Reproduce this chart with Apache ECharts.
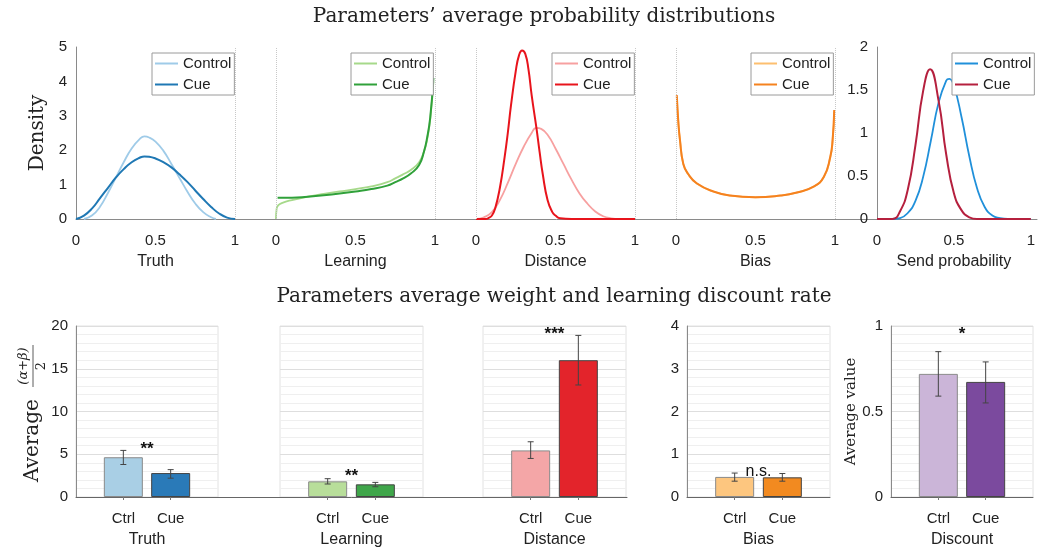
<!DOCTYPE html>
<html><head><meta charset="utf-8">
<script src="https://cdn.jsdelivr.net/npm/echarts@6/dist/echarts.min.js"></script>
<style>html,body{margin:0;padding:0;background:#fff}#c{width:1038px;height:554px}</style>
</head><body><div id="c"></div>
<script>
// ---------------- DATA ----------------
const topPanels = ['Truth', 'Learning', 'Distance', 'Bias', 'Send probability'];
const seriesNames = ['Control', 'Cue'];

const truthControl = [[0.05,0],[0.1,0.1],[0.15,0.35],[0.2,0.75],[0.25,1.2],[0.3,1.65],[0.35,2.05],[0.4,2.32],[0.43,2.4],[0.46,2.37],[0.5,2.25],[0.55,1.98],[0.6,1.6],[0.65,1.2],[0.7,0.8],[0.75,0.45],[0.8,0.2],[0.85,0.05],[0.88,0]];
const truthCue = [[0,0],[0.05,0.1],[0.1,0.3],[0.15,0.6],[0.2,0.9],[0.25,1.2],[0.3,1.45],[0.35,1.65],[0.4,1.78],[0.43,1.82],[0.46,1.81],[0.5,1.76],[0.55,1.65],[0.6,1.5],[0.65,1.3],[0.7,1.08],[0.75,0.83],[0.8,0.58],[0.85,0.35],[0.9,0.16],[0.95,0.04],[1,0]];

const learningControl = [[0,0],[0.004,0.3],[0.015,0.4],[0.04,0.47],[0.1,0.55],[0.2,0.65],[0.3,0.73],[0.4,0.8],[0.5,0.87],[0.6,0.95],[0.7,1.07],[0.75,1.18],[0.8,1.3],[0.85,1.43],[0.9,1.65],[0.93,1.95],[0.95,2.3],[0.97,2.9],[0.99,4.0]];
const learningCue = [[0.01,0.62],[0.1,0.62],[0.2,0.65],[0.3,0.69],[0.4,0.74],[0.5,0.8],[0.6,0.87],[0.7,0.97],[0.75,1.07],[0.8,1.18],[0.85,1.33],[0.9,1.57],[0.93,1.95],[0.95,2.35],[0.97,2.95],[0.99,4.1]];

const distanceControl = [[0,0],[0.05,0.05],[0.1,0.2],[0.15,0.55],[0.2,1.05],[0.25,1.6],[0.3,2.1],[0.35,2.5],[0.38,2.65],[0.41,2.62],[0.45,2.45],[0.5,2.05],[0.55,1.6],[0.6,1.15],[0.65,0.75],[0.7,0.45],[0.75,0.22],[0.8,0.08],[0.85,0.02],[0.9,0],[1,0]];
const distanceCue = [[0,0],[0.06,0],[0.08,0.03],[0.1,0.1],[0.12,0.3],[0.15,0.9],[0.18,1.8],[0.2,2.5],[0.22,3.3],[0.25,4.3],[0.27,4.75],[0.29,4.9],[0.31,4.8],[0.33,4.35],[0.35,3.6],[0.38,2.65],[0.4,1.95],[0.42,1.3],[0.45,0.55],[0.48,0.2],[0.5,0.1],[0.53,0.02],[0.6,0],[1,0]];

const biasControl = [[0.005,3.55],[0.015,2.78],[0.025,2.28],[0.046,1.6],[0.078,1.3],[0.13,1.03],[0.235,0.8],[0.34,0.68],[0.5,0.63],[0.655,0.68],[0.76,0.77],[0.865,0.94],[0.93,1.22],[0.97,1.78],[0.985,2.28],[0.995,3.12]];
const biasCue = [[0.005,3.6],[0.015,2.8],[0.025,2.3],[0.046,1.6],[0.078,1.3],[0.13,1.04],[0.235,0.8],[0.34,0.68],[0.5,0.63],[0.655,0.68],[0.76,0.77],[0.865,0.94],[0.93,1.23],[0.97,1.8],[0.985,2.3],[0.995,3.17]];

const sendControl = [[0,0],[0.1,0],[0.15,0.01],[0.2,0.07],[0.25,0.21],[0.3,0.49],[0.35,0.91],[0.4,1.35],[0.45,1.61],[0.47,1.63],[0.5,1.55],[0.55,1.18],[0.6,0.73],[0.65,0.36],[0.7,0.14],[0.75,0.04],[0.8,0.01],[0.85,0],[1,0]];
const sendCue = [[0,0],[0.1,0],[0.15,0.09],[0.2,0.34],[0.25,0.86],[0.3,1.49],[0.345,1.74],[0.4,1.38],[0.45,0.75],[0.5,0.3],[0.55,0.1],[0.6,0.02],[0.65,0],[1,0]];

const controlCurves = [truthControl, learningControl, distanceControl, biasControl, sendControl];
const cueCurves = [truthCue, learningCue, distanceCue, biasCue, sendCue];
const topYMax = [5, 5, 5, 5, 2];

const barPanels = ['Truth', 'Learning', 'Distance', 'Bias', 'Discount'];
const barCategories = ['', 'Ctrl', 'Cue', ''];
const ctrlMean = [4.65, 1.83, 5.45, 0.47, 0.72];
const cueMean  = [2.8, 1.48, 16.0, 0.46, 0.673];
const ctrlLow  = [3.8, 1.52, 4.51, 0.37, 0.59];
const ctrlHigh = [5.45, 2.14, 6.46, 0.56, 0.85];
const cueLow   = [2.2, 1.2, 13.1, 0.37, 0.55];
const cueHigh  = [3.2, 1.71, 18.9, 0.55, 0.79];
const sigText  = ['**', '**', '***', 'n.s.', '*'];
const sigY     = [5.6, 2.45, 19.0, 0.6, 0.95];
const barYMax  = [20, 20, 20, 4, 1];
const barYInterval = [5, 5, 5, 1, 0.5];
const barMinorSplit = [5, 5, 5, 5, 10];

// ---------------- STYLE ----------------
const SANS = 'Liberation Sans, Arial, Helvetica, sans-serif';
const SERIF = 'DejaVu Serif, serif';
const TXT = '#222';
const ctrlLineColors = ['#9fcbe8', '#a6d98a', '#f7a0a0', '#fdbf6f', '#2090da'];
const cueLineColors  = ['#1f78b4', '#30a13a', '#e8141c', '#f5821f', '#b5203e'];
const ctrlBarColors  = ['#a9cfe5', '#b8de9a', '#f4a6a7', '#fdc67f', '#cbb5d8'];
const cueBarColors   = ['#2a7ab8', '#3fa64a', '#e3242b', '#f28a20', '#7b4a9e'];
const topLefts = [76, 276, 476, 676, 877];
const topWidths = [159, 159, 159, 159, 158];
const legendLefts = [152, 351, 552, 751, 952];
const botLefts = [76, 280, 483, 687, 891];
const botWidths = [142, 143, 143, 143, 142];

const grids = [], xAxes = [], yAxes = [], series = [], legends = [];

// top row
for (let i = 0; i < 5; i++) {
  grids.push({ left: topLefts[i], top: 47, width: topWidths[i], height: 172 });
  xAxes.push({
    gridIndex: i, type: 'value', min: 0, max: 1, interval: 0.5,
    axisLine: { show: false }, axisTick: { show: false }, splitLine: { show: false },
    axisLabel: { fontSize: 15, color: TXT, margin: 14, fontFamily: SANS },
    name: topPanels[i], nameLocation: 'middle', nameGap: 35,
    nameTextStyle: { fontSize: 16, color: TXT, fontFamily: SANS }
  });
  const showY = (i === 0 || i === 4);
  yAxes.push({
    gridIndex: i, type: 'value', min: 0, max: topYMax[i], interval: i === 4 ? 0.5 : 1,
    show: showY,
    axisLine: { show: true, lineStyle: { color: '#8a8a8a' } },
    axisTick: { show: false }, splitLine: { show: false },
    axisLabel: { fontSize: 15, color: TXT, margin: 9, fontFamily: SANS },
    name: i === 0 ? 'Density' : '', nameLocation: 'middle', nameGap: 28,
    nameTextStyle: { fontSize: 20, color: TXT, fontFamily: SERIF }
  });
  const marks = [];
  if (i !== 0 && i !== 4) marks.push({ xAxis: 0 });
  if (i !== 4) marks.push({ xAxis: 1 });
  series.push({
    type: 'line', name: seriesNames[0] + '|' + i, xAxisIndex: i, yAxisIndex: i,
    data: controlCurves[i], symbol: 'none', smooth: 0.5,
    lineStyle: { color: ctrlLineColors[i], width: 1.8 }, itemStyle: { color: ctrlLineColors[i] },
    markLine: { silent: true, symbol: 'none', label: { show: false },
      lineStyle: { color: '#c8c8c8', type: 'dotted', width: 1 }, data: marks }
  });
  series.push({
    type: 'line', name: seriesNames[1] + '|' + i, xAxisIndex: i, yAxisIndex: i,
    data: cueCurves[i], symbol: 'none', smooth: 0.5,
    lineStyle: { color: cueLineColors[i], width: 2 }, itemStyle: { color: cueLineColors[i] }
  });
  legends.push({
    left: legendLefts[i], top: 53, orient: 'vertical',
    data: [seriesNames[0] + '|' + i, seriesNames[1] + '|' + i],
    formatter: n => n.split('|')[0],
    itemWidth: 23, itemHeight: 14, itemGap: 6, itemTextGap: 2,
    itemStyle: { opacity: 0 },
    padding: [3, 3, 3, 2], borderColor: '#9a9a9a', borderWidth: 1, backgroundColor: '#fff',
    selectedMode: false,
    textStyle: { fontSize: 15, color: TXT, fontFamily: SANS }
  });
}
// continuous baseline for top row (grid 5)
grids.push({ left: 76, top: 47, width: 961, height: 172 });
xAxes.push({ gridIndex: 5, type: 'value', min: 0, max: 1, axisLine: { show: true, lineStyle: { color: '#8a8a8a' } },
  axisLabel: { show: false }, axisTick: { show: false }, splitLine: { show: false } });
yAxes.push({ gridIndex: 5, type: 'value', min: 0, max: 1, show: false });

// bottom row (grids 6..10)
for (let j = 0; j < 5; j++) {
  const g = 6 + j;
  grids.push({ left: botLefts[j], top: 326, width: botWidths[j], height: 171, show: true,
    borderColor: '#e2e2e2', borderWidth: 1, backgroundColor: 'transparent' });
  xAxes.push({
    gridIndex: g, type: 'category', data: barCategories, boundaryGap: false,
    axisLine: { show: j >= 3, lineStyle: { color: '#666' } },
    axisTick: { show: true, interval: (idx, val) => val !== '', length: 3, lineStyle: { color: '#777' } },
    axisLabel: { interval: 0, fontSize: 15, color: TXT, margin: 14, fontFamily: SANS },
    splitLine: { show: false },
    name: barPanels[j], nameLocation: 'middle', nameGap: 35,
    nameTextStyle: { fontSize: 16, color: TXT, fontFamily: SANS }
  });
  const showLab = (j === 0 || j >= 3);
  yAxes.push({
    gridIndex: g, type: 'value', min: 0, max: barYMax[j], interval: barYInterval[j],
    axisLine: { show: showLab, lineStyle: { color: '#8a8a8a' } },
    axisTick: { show: false },
    axisLabel: { show: showLab, fontSize: 15, color: TXT, margin: 8, fontFamily: SANS },
    splitLine: { show: true, lineStyle: { color: '#dedede' } },
    minorTick: { show: false, splitNumber: barMinorSplit[j] },
    minorSplitLine: { show: true, lineStyle: { color: '#efefef' } },
    name: j === 4 ? 'Average value' : '', nameLocation: 'middle', nameGap: 30,
    nameTextStyle: { fontSize: 15, color: TXT, fontFamily: SERIF }
  });
  series.push({
    type: 'bar', xAxisIndex: g, yAxisIndex: g, barWidth: 39, z: 3,
    data: [null,
      { value: ctrlMean[j], itemStyle: { color: ctrlBarColors[j], borderColor: '#8a8a8a' } },
      { value: cueMean[j], itemStyle: { color: cueBarColors[j], borderColor: '#444' } },
      null],
    itemStyle: { borderWidth: 1 }
  });
  series.push({
    type: 'custom', xAxisIndex: g, yAxisIndex: g, z: 5,
    encode: { x: 0, y: [1, 2] },
    data: [[1, ctrlLow[j], ctrlHigh[j]], [2, cueLow[j], cueHigh[j]]],
    renderItem: (params, api) => {
      const x = api.value(0);
      const lo = api.coord([x, api.value(1)]);
      const hi = api.coord([x, api.value(2)]);
      const w = 3, st = { stroke: '#444', lineWidth: 1 };
      return { type: 'group', children: [
        { type: 'line', shape: { x1: lo[0], y1: lo[1], x2: hi[0], y2: hi[1] }, style: st },
        { type: 'line', shape: { x1: lo[0] - w, y1: lo[1], x2: lo[0] + w, y2: lo[1] }, style: st },
        { type: 'line', shape: { x1: hi[0] - w, y1: hi[1], x2: hi[0] + w, y2: hi[1] }, style: st }
      ]};
    }
  });
  series.push({
    type: 'custom', xAxisIndex: g, yAxisIndex: g, z: 6, silent: true,
    encode: { x: [0, 1], y: 2 },
    data: [[1, 2, sigY[j]]],
    renderItem: (params, api) => {
      const a = api.coord([api.value(0), api.value(2)]);
      const b = api.coord([api.value(1), api.value(2)]);
      const isStar = sigText[j].indexOf('*') >= 0;
      return { type: 'text', x: (a[0] + b[0]) / 2, y: a[1],
        style: { text: sigText[j], align: 'center', verticalAlign: 'middle',
          font: (isStar ? 'bold 17px ' : '16px ') + SANS, fill: '#111' } };
    }
  });
}
// continuous baseline for Truth/Learning/Distance (grid 11)
grids.push({ left: 76, top: 326, width: 551, height: 171 });
xAxes.push({ gridIndex: 11, type: 'value', min: 0, max: 1, axisLine: { show: true, lineStyle: { color: '#666' } },
  axisLabel: { show: false }, axisTick: { show: false }, splitLine: { show: false } });
yAxes.push({ gridIndex: 11, type: 'value', min: 0, max: 1, show: false });

const option = {
  animation: false,
  backgroundColor: '#fff',
  grid: grids, xAxis: xAxes, yAxis: yAxes, series: series, legend: legends,
  graphic: [
    { type: 'text', x: 544, y: 17, style: { text: "Parameters\u2019 average probability distributions",
      font: '20px ' + SERIF, fill: TXT, align: 'center', verticalAlign: 'middle' } },
    { type: 'text', x: 554, y: 297, style: { text: 'Parameters average weight and learning discount rate',
      font: '20px ' + SERIF, fill: TXT, align: 'center', verticalAlign: 'middle' } },
    { type: 'group', x: 33, y: 482, rotation: Math.PI / 2, children: [
      { type: 'text', x: 0, y: 0, style: { text: 'Average', font: '20px ' + SERIF, fill: TXT, align: 'left', verticalAlign: 'middle' } },
      { type: 'text', x: 116, y: -9, style: { text: '(\u03b1+\u03b2)', font: 'italic 13px ' + SERIF, fill: TXT, align: 'center', verticalAlign: 'middle' } },
      { type: 'line', shape: { x1: 95, y1: 0, x2: 137, y2: 0 }, style: { stroke: '#333', lineWidth: 0.8 } },
      { type: 'text', x: 116, y: 9, style: { text: '2', font: '13px ' + SERIF, fill: TXT, align: 'center', verticalAlign: 'middle' } }
    ]}
  ]
};
const chart = echarts.init(document.getElementById('c'), null, { renderer: 'canvas' });
chart.setOption(option);
</script></body></html>
